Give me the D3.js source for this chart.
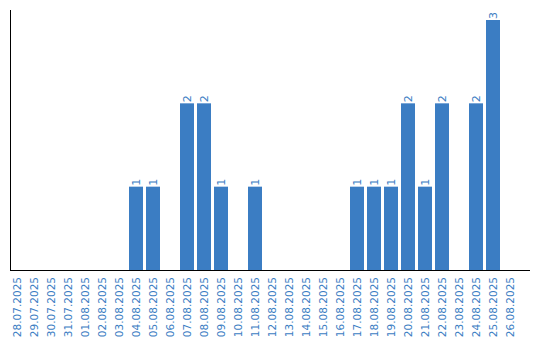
<!doctype html>
<html lang="en">
<head>
  <meta charset="utf-8">
  <title>Chart</title>
  <style>
    body { margin: 0; background: #fff; }
    text { font-family: "DejaVu Sans", sans-serif; }
  </style>
</head>
<body>
<svg width="540" height="340" id="chart"></svg>
<script src="https://d3js.org/d3.v7.min.js"></script>
<script>
    var dates = ["28.07.2025","29.07.2025","30.07.2025","31.07.2025","01.08.2025","02.08.2025",
                 "03.08.2025","04.08.2025","05.08.2025","06.08.2025","07.08.2025","08.08.2025",
                 "09.08.2025","10.08.2025","11.08.2025","12.08.2025","13.08.2025","14.08.2025",
                 "15.08.2025","16.08.2025","17.08.2025","18.08.2025","19.08.2025","20.08.2025",
                 "21.08.2025","22.08.2025","23.08.2025","24.08.2025","25.08.2025","26.08.2025"];
    var counts = [0,0,0,0,0,0,0,1,1,0,2,2,1,0,1,0,0,0,0,0,1,1,1,2,1,2,0,2,3,0];

    var blue = "#3b7dc3";
    var svg = d3.select("#chart");

    var x = d3.scaleBand().domain(dates).range([10, 520]);
    var y = d3.scaleLinear().domain([0, 3]).range([270, 20]);
    var barW = x.bandwidth() - 3;

    var data = dates.map(function(d, i) { return {date: d, value: counts[i]}; });

    // bars
    svg.selectAll("rect.bar").data(data.filter(function(d) { return d.value > 0; }))
      .enter().append("rect")
        .attr("x", function(d) { return x(d.date); })
        .attr("y", function(d) { return y(d.value); })
        .attr("width", barW)
        .attr("height", function(d) { return y(0) - y(d.value); })
        .attr("fill", blue);

    // value labels
    svg.selectAll("text.val").data(data.filter(function(d) { return d.value > 0; }))
      .enter().append("text")
        .attr("transform", function(d) {
          return "translate(" + (x(d.date) + barW / 2 + 4) + "," + (y(d.value) - 1) + ") rotate(-90)";
        })
        .attr("fill", blue)
        .attr("font-size", 11)
        .text(function(d) { return d.value; });

    // date labels
    svg.selectAll("text.date").data(data)
      .enter().append("text")
        .attr("transform", function(d) {
          return "translate(" + (x(d.date) + barW / 2 + 4) + ",277) rotate(-90)";
        })
        .attr("text-anchor", "end")
        .attr("fill", blue)
        .attr("font-size", 10.5)
        .text(function(d) { return d.date; });

    // axis lines
    svg.append("line").attr("x1", 10.5).attr("x2", 10.5).attr("y1", 10).attr("y2", 270)
      .attr("stroke", "#000").attr("stroke-width", 1);
    svg.append("line").attr("x1", 10).attr("x2", 530).attr("y1", 270.5).attr("y2", 270.5)
      .attr("stroke", "#000").attr("stroke-width", 1);
</script>
</body>
</html>
